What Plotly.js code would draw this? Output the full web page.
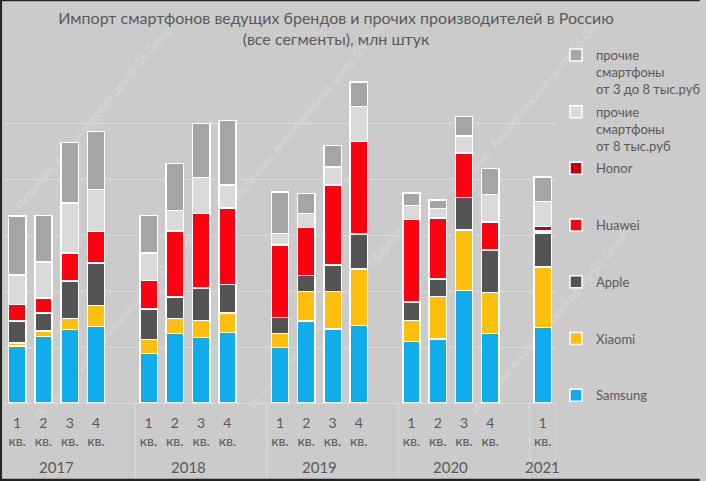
<!DOCTYPE html>
<html>
<head>
<meta charset="utf-8">
<script src="https://cdn.plot.ly/plotly-3.0.1.min.js"></script>
<style>
  html, body { margin: 0; padding: 0; background: #cbcbcb; }
  #chart { width: 706px; height: 481px; }
</style>
</head>
<body>
<div id="chart"></div>
<script>
// ---- data (млн штук) ----
const years = ['2017', '2018', '2019', '2020', '2021'];
const quartersPerYear = [4, 4, 4, 4, 1];
const quarterLabels = ['1', '2', '3', '4', '1', '2', '3', '4', '1', '2', '3', '4', '1', '2', '3', '4', '1'];
const quarterSuffix = 'кв.';

const samsung = [2.03, 2.38, 2.62, 2.74, 1.76, 2.48, 2.34, 2.51, 1.98, 2.92, 2.64, 2.76, 2.19, 2.29, 4.01, 2.48, 2.70];
const xiaomi  = [0.11, 0.19, 0.40, 0.75, 0.50, 0.53, 0.60, 0.70, 0.50, 1.07, 1.35, 2.03, 0.76, 1.51, 2.16, 1.47, 2.16];
const apple   = [0.78, 0.64, 1.34, 1.51, 1.09, 0.78, 1.17, 1.02, 0.58, 0.57, 0.93, 1.25, 0.65, 0.63, 1.17, 1.51, 1.21];
const huawei  = [0.59, 0.54, 1.00, 1.13, 1.03, 2.35, 2.65, 2.73, 2.58, 1.70, 2.87, 3.30, 2.95, 2.17, 1.58, 1.00, 0.08];
const honor   = [null, null, null, null, null, null, null, null, null, null, null, null, null, null, null, null, 0.16];
const other8  = [1.07, 1.29, 1.78, 1.49, 0.98, 0.74, 1.30, 0.82, 0.42, 0.50, 0.64, 1.25, 0.50, 0.35, 0.61, 0.98, 0.89];
const other38 = [2.09, 1.65, 2.17, 2.08, 1.33, 1.67, 1.92, 2.31, 1.47, 0.72, 0.77, 0.87, 0.45, 0.30, 0.71, 0.93, 0.87];

const seriesNames = ['Samsung', 'Xiaomi', 'Apple', 'Huawei', 'Honor',
  'прочие<br>смартфоны<br>от 8 тыс.руб', 'прочие<br>смартфоны<br>от 3 до 8 тыс.руб'];
const seriesData = [samsung, xiaomi, apple, huawei, honor, other8, other38];

const titleText = 'Импорт смартфонов ведущих брендов и прочих производителей в Россию<br>(все сегменты), млн штук';
const watermarkText = 'Источник: Аналитический центр GS Group';

// ---- styling ----
const colors = ['#10ACEB', '#FFBF0D', '#545454', '#FF0010', '#C00010', '#DADADA', '#A5A5A5'];
const textColor = '#595959';
const FONT = 'Lato, "Open Sans", sans-serif';

// slot positions: each year group = its quarters + one blank slot
const slots = [];
const groupCenters = [];
const boundaries = [-0.5];
let s = 0;
quartersPerYear.forEach((n, g) => {
  const first = s;
  for (let q = 0; q < n; q++) { slots.push(s); s++; }
  groupCenters.push((first + s - 1) / 2);
  if (g < quartersPerYear.length - 1) { boundaries.push(s + 0.5); s++; }
  else boundaries.push(s - 0.5);
});
const xMax = s - 0.5;

// pixel helpers for paper coords
const L = 4, R = 561, T = 67, B = 403;
const px = p => (p - L) / (R - L);
const py = p => (B - p) / (B - T);

function padLines(name) {
  const n = name.split('<br>').length;
  let out = name;
  for (let i = n; i < 3; i++) out += '<br>&nbsp;';
  return out;
}

const nSeries = seriesData.length;
const traces = seriesData.map((vals, i) => ({
  type: 'bar',
  x: slots,
  y: vals,
  name: padLines(seriesNames[i]),
  legendgroup: 'g' + i,
  legendrank: nSeries - i,
  marker: { color: colors[i], line: { color: '#FFFFFF', width: 1.5 } },
  hoverinfo: 'y+name'
}));

const annotations = years.map((yr, g) => ({
  text: yr, xref: 'x', yref: 'paper', x: groupCenters[g], y: py(467),
  showarrow: false, xanchor: 'center', yanchor: 'middle',
  font: { family: FONT, size: 15, color: textColor }
}));

const shapes = [];
// faint watermark, drawn beneath the bars (shape labels, layer below)
const wmPos = [[100, 125], [320, 115], [540, 110], [120, 335], [335, 325], [560, 330]];
const ang = 50 * Math.PI / 180, half = 110;
wmPos.forEach(([x, y]) => shapes.push({
  type: 'line', xref: 'paper', yref: 'paper', layer: 'below',
  x0: px(x - half * Math.cos(ang)), y0: py(y + half * Math.sin(ang)),
  x1: px(x + half * Math.cos(ang)), y1: py(y - half * Math.sin(ang)),
  line: { color: 'rgba(0,0,0,0)', width: 0 },
  label: { text: watermarkText, textangle: -50, textposition: 'middle',
    font: { family: FONT, size: 12, color: '#D7D7D7' } }
}));

boundaries.forEach(b => shapes.push({
  type: 'line', xref: 'x', yref: 'paper', x0: b, x1: b, y0: 0, y1: py(480),
  line: { color: '#DCDCDC', width: 1 }, layer: 'below'
}));
// outer frame (top, left, bottom)
shapes.push({ type: 'line', xref: 'paper', yref: 'paper', x0: px(0), x1: px(706), y0: py(0.5), y1: py(0.5), line: { color: '#222', width: 1.5 } });
shapes.push({ type: 'line', xref: 'paper', yref: 'paper', x0: px(1), x1: px(1), y0: py(0), y1: py(481), line: { color: '#222', width: 2 } });
shapes.push({ type: 'line', xref: 'paper', yref: 'paper', x0: px(0), x1: px(706), y0: py(480), y1: py(480), line: { color: '#222', width: 2.5 } });

const layout = {
  width: 706, height: 481,
  margin: { l: L, r: 706 - R, t: T, b: 481 - B, pad: 0 },
  paper_bgcolor: '#CBCBCB', plot_bgcolor: 'rgba(0,0,0,0)',
  font: { family: FONT, color: textColor },
  barmode: 'stack', bargap: 0.34,
  title: {
    text: titleText, xref: 'container', yref: 'container',
    x: 336 / 706, xanchor: 'center', y: 1 - 24 / 481, yanchor: 'top',
    font: { family: FONT, size: 16, color: textColor }
  },
  xaxis: {
    range: [-0.5, xMax], tickvals: slots,
    ticktext: quarterLabels.map(q => q + '<br>' + quarterSuffix),
    showgrid: false, zeroline: false, showline: false, ticks: '',
    ticklabelstandoff: 10,
    tickfont: { family: FONT, size: 14, color: textColor }, fixedrange: true
  },
  yaxis: {
    range: [0, 12], dtick: 2, showticklabels: false, showgrid: true,
    gridcolor: '#DCDCDC', gridwidth: 1, zeroline: true, zerolinecolor: '#DCDCDC',
    zerolinewidth: 1, fixedrange: true
  },
  legend: {
    xref: 'container', yref: 'container', x: 556 / 706, y: 1 - 40 / 481,
    xanchor: 'left', yanchor: 'top', traceorder: 'grouped', valign: 'top',
    tracegroupgap: 3, maxheight: 470,
    bgcolor: 'rgba(0,0,0,0)', font: { family: FONT, size: 13, color: textColor }
  },
  annotations: annotations,
  shapes: shapes,
  showlegend: true
};

Plotly.newPlot('chart', traces, layout, { displayModeBar: false, staticPlot: true });
</script>
</body>
</html>
